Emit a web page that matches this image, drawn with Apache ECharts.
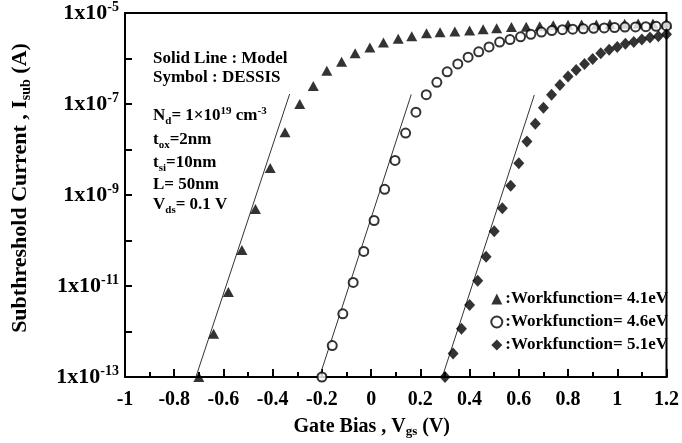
<!DOCTYPE html>
<html>
<head>
<meta charset="utf-8">
<script src="https://cdn.jsdelivr.net/npm/echarts@6/dist/echarts.min.js"></script>
<style>
  html, body { margin: 0; padding: 0; background: #fff; }
  #chart { width: 682px; height: 443px; }
</style>
</head>
<body>
<div id="chart"></div>
<script>
const FONT = '"Liberation Serif", "Times New Roman", serif';

// DESSIS simulation points: gate bias (V) and subthreshold current (A)
const vgsWf41 = [-0.70, -0.64, -0.58, -0.525, -0.47, -0.41, -0.35, -0.29, -0.235, -0.18,
  -0.12, -0.065, -0.005, 0.05, 0.11, 0.165, 0.225, 0.28, 0.34, 0.40,
  0.455, 0.51, 0.57, 0.63, 0.685, 0.74, 0.80, 0.855, 0.915, 0.97,
  1.03, 1.085, 1.145, 1.20];
const isubWf41 = [1.0e-13, 8.9e-13, 7.4e-12, 6.2e-11, 4.9e-10, 3.9e-9, 2.4e-8, 1.0e-7, 2.5e-7, 5.4e-7,
  8.5e-7, 1.3e-6, 1.74e-6, 2.24e-6, 2.7e-6, 3.1e-6, 3.6e-6, 3.76e-6, 3.9e-6, 4.1e-6,
  4.4e-6, 4.6e-6, 4.9e-6, 5.0e-6, 5.1e-6, 5.4e-6, 5.5e-6, 5.6e-6, 5.6e-6, 5.75e-6,
  5.8e-6, 5.9e-6, 5.9e-6, 5.9e-6];

const vgsWf46 = [-0.20, -0.158, -0.115, -0.073, -0.03, 0.012, 0.055, 0.097, 0.14, 0.182,
  0.224, 0.267, 0.309, 0.352, 0.394, 0.437, 0.479, 0.522, 0.564, 0.607,
  0.649, 0.692, 0.734, 0.777, 0.819, 0.862, 0.904, 0.947, 0.989, 1.031,
  1.074, 1.116, 1.158, 1.20];
const isubWf46 = [1.0e-13, 4.9e-13, 2.45e-12, 1.2e-11, 5.75e-11, 2.75e-10, 1.33e-9, 5.75e-9, 2.3e-8, 6.6e-8,
  1.6e-7, 3.0e-7, 5.1e-7, 7.6e-7, 1.07e-6, 1.4e-6, 1.8e-6, 2.3e-6, 2.6e-6, 3.0e-6,
  3.4e-6, 3.8e-6, 4.1e-6, 4.3e-6, 4.4e-6, 4.5e-6, 4.6e-6, 4.7e-6, 4.8e-6, 4.9e-6,
  4.95e-6, 5.0e-6, 5.1e-6, 5.2e-6];

const vgsWf51 = [0.30, 0.333, 0.367, 0.40, 0.433, 0.467, 0.50, 0.533, 0.567, 0.60,
  0.633, 0.667, 0.70, 0.733, 0.767, 0.80, 0.833, 0.867, 0.90, 0.933,
  0.967, 1.00, 1.033, 1.067, 1.10, 1.133, 1.167, 1.20];
const isubWf51 = [1.0e-13, 3.3e-13, 1.15e-12, 3.8e-12, 1.3e-11, 4.4e-11, 1.6e-10, 5.1e-10, 1.6e-9, 5.0e-9,
  1.5e-8, 3.7e-8, 8.3e-8, 1.6e-7, 2.6e-7, 4.0e-7, 5.6e-7, 7.6e-7, 9.8e-7, 1.3e-6,
  1.55e-6, 1.8e-6, 2.1e-6, 2.3e-6, 2.6e-6, 2.9e-6, 3.1e-6, 3.4e-6];

// Analytical model: straight subthreshold lines (end points)
const modelVgsWf41 = [-0.712, -0.331];
const modelIsubWf41 = [1e-13, 1.66e-7];
const modelVgsWf46 = [-0.210, 0.163];
const modelIsubWf46 = [1e-13, 1.62e-7];
const modelVgsWf51 = [0.289, 0.663];
const modelIsubWf51 = [1e-13, 1.58e-7];

const seriesNames = ['Workfunction= 4.1eV', 'Workfunction= 4.6eV', 'Workfunction= 5.1eV'];
// Decades that carry a "1x10^n" label on the current axis
const yLabelExponents = [-13, -11, -9, -7, -5];

const pairs = (xs, ys) => xs.map((x, i) => [x, ys[i]]);

const subStyle = { fontFamily: FONT, fontWeight: 'bold', fontSize: 11, lineHeight: 12, verticalAlign: 'bottom', fill: '#000' };
const supStyle = { fontFamily: FONT, fontWeight: 'bold', fontSize: 11, lineHeight: 12, verticalAlign: 'top', fill: '#000' };
const mainStyle = { fontFamily: FONT, fontWeight: 'bold', fontSize: 17, lineHeight: 21, fill: '#000' };

function noteText(text, x, y) {
  return {
    type: 'text', x: x, y: y, silent: true,
    style: {
      text: text, verticalAlign: 'middle', align: 'left',
      rich: { t: mainStyle, sub: subStyle, sup: supStyle }
    }
  };
}

const chart = echarts.init(document.getElementById('chart'), null, { renderer: 'canvas' });

const scatterBase = { type: 'scatter', clip: false, z: 3 };
const modelBase = {
  type: 'line', showSymbol: false, symbol: 'none', silent: true, clip: true, z: 2,
  lineStyle: { color: '#333', width: 1 }
};

chart.setOption({
  backgroundColor: '#fff',
  animation: false,
  textStyle: { fontFamily: FONT },
  grid: { left: 125, right: 14, top: 13, bottom: 66, show: true, borderColor: '#000', borderWidth: 2 },
  xAxis: {
    type: 'value', min: -1, max: 1.2, interval: 0.2,
    name: '{t|Gate Bias , V}{sub|gs}{t| (V)}',
    nameLocation: 'middle', nameGap: 38,
    nameTextStyle: {
      padding: [0, 48, 0, 0],
      rich: {
        t: { fontFamily: FONT, fontWeight: 'bold', fontSize: 20, lineHeight: 23, color: '#000' },
        sub: { fontFamily: FONT, fontWeight: 'bold', fontSize: 13, lineHeight: 13, verticalAlign: 'bottom', color: '#000' }
      }
    },
    axisLine: { onZero: false, lineStyle: { color: '#000', width: 2 } },
    axisTick: { inside: true, length: 8, lineStyle: { color: '#000', width: 2 } },
    minorTick: { show: true, splitNumber: 2, length: 5, lineStyle: { color: '#000', width: 2 } },
    splitLine: { show: false },
    axisLabel: { margin: 13, color: '#000', fontFamily: FONT, fontWeight: 'bold', fontSize: 20 }
  },
  yAxis: {
    type: 'log', logBase: 10, min: 1e-13, max: 1e-5, interval: 1,
    name: '{t|Subthreshold Current , I}{sub|sub}{t| (A)}',
    nameLocation: 'middle', nameGap: 92, nameRotate: 90,
    nameTextStyle: {
      padding: [0, 0, 0, 14],
      rich: {
        t: { fontFamily: FONT, fontWeight: 'bold', fontSize: 22, lineHeight: 25, color: '#000' },
        sub: { fontFamily: FONT, fontWeight: 'bold', fontSize: 14, lineHeight: 14, verticalAlign: 'bottom', color: '#000' }
      }
    },
    axisLine: { onZero: false, lineStyle: { color: '#000', width: 2 } },
    axisTick: { inside: true, length: 7, lineStyle: { color: '#000', width: 2 } },
    splitLine: { show: false },
    axisLabel: {
      margin: 6, showMinLabel: true, showMaxLabel: true,
      formatter: function (v) {
        const e = Math.round(Math.log10(v));
        return yLabelExponents.indexOf(e) >= 0 ? '{b|1x10}{s|' + e + '}' : '';
      },
      rich: {
        b: { fontFamily: FONT, fontWeight: 'bold', fontSize: 22, lineHeight: 25, color: '#000' },
        s: { fontFamily: FONT, fontWeight: 'bold', fontSize: 14, lineHeight: 14, verticalAlign: 'top', color: '#000' }
      }
    }
  },
  legend: {
    orient: 'vertical', right: 14, top: 290, padding: 0, itemGap: 5,
    itemWidth: 11, itemHeight: 11,
    data: seriesNames,
    formatter: function (name) { return ':' + name; },
    textStyle: { fontFamily: FONT, fontWeight: 'bold', fontSize: 17, lineHeight: 18, color: '#000', padding: [0, 0, 0, -2] }
  },
  graphic: [
    noteText('{t|Solid Line : Model}', 153, 59),
    noteText('{t|Symbol : DESSIS}', 153, 78),
    noteText('{t|N}{sub|d}{t|= 1×10}{sup|19}{t| cm}{sup|-3}', 153, 116),
    noteText('{t|t}{sub|ox}{t|=2nm}', 153, 140),
    noteText('{t|t}{sub|si}{t|=10nm}', 153, 163),
    noteText('{t|L= 50nm}', 153, 185),
    noteText('{t|V}{sub|ds}{t|= 0.1 V}', 153, 205)
  ],
  series: [
    Object.assign({}, scatterBase, {
      name: seriesNames[0], data: pairs(vgsWf41, isubWf41),
      symbol: 'triangle', symbolSize: [11, 10], itemStyle: { color: '#000' }
    }),
    Object.assign({}, scatterBase, {
      name: seriesNames[1], data: pairs(vgsWf46, isubWf46),
      symbol: 'emptyCircle', symbolSize: 9,
      itemStyle: { color: '#000', borderColor: '#000', borderWidth: 1.6 }
    }),
    Object.assign({}, scatterBase, {
      name: seriesNames[2], data: pairs(vgsWf51, isubWf51),
      symbol: 'diamond', symbolSize: [11, 12], itemStyle: { color: '#000' }
    }),
    Object.assign({}, modelBase, { name: 'model41', data: pairs(modelVgsWf41, modelIsubWf41) }),
    Object.assign({}, modelBase, { name: 'model46', data: pairs(modelVgsWf46, modelIsubWf46) }),
    Object.assign({}, modelBase, { name: 'model51', data: pairs(modelVgsWf51, modelIsubWf51) })
  ]
});
</script>
</body>
</html>
